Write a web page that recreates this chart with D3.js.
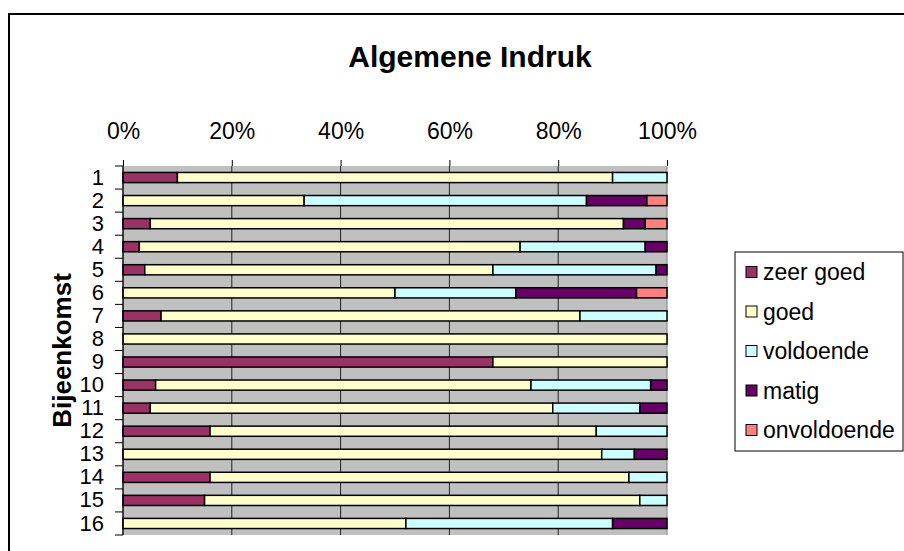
<!DOCTYPE html>
<html lang="nl">

<head>
    <meta charset="UTF-8">
    <title>Algemene Indruk</title>
    <style>
        body { margin: 0; background: white; }
        svg { display: block; font-family: Arial, "Liberation Sans", sans-serif; }
        .tick text { fill: black; }
    </style>
    <script src="https://d3js.org/d3.v7.min.js"></script>
</head>

<body>
    <div class="graph"></div>
</body>
<script>
    // categorieen (bijeenkomsten) en reeksen, in procenten
    const bijeenkomst = ['1', '2', '3', '4', '5', '6', '7', '8', '9', '10', '11', '12', '13', '14', '15', '16']
    const zeerGoed    = [10, 0, 5, 3, 4, 0, 7, 0, 68, 6, 5, 16, 0, 16, 15, 0]
    const goed        = [80, 33.3, 87, 70, 64, 50, 77, 100, 32, 69, 74, 71, 88, 77, 80, 52]
    const voldoende   = [10, 51.9, 0, 23, 30, 22.2, 16, 0, 0, 22, 16, 13, 6, 7, 5, 38]
    const matig       = [0, 11.1, 4, 4, 2, 22.2, 0, 0, 0, 3, 5, 0, 6, 0, 0, 10]
    const onvoldoende = [0, 3.7, 4, 0, 0, 5.6, 0, 0, 0, 0, 0, 0, 0, 0, 0, 0]
    const reeksen = ['zeer goed', 'goed', 'voldoende', 'matig', 'onvoldoende']
    const kleuren = ['#993366', '#FFFFCC', '#CCFFFF', '#660066', '#FF8080']
    const tickWaarden = [0, 0.2, 0.4, 0.6, 0.8, 1]

    const width = 904, height = 551
    const plot = { left: 123, right: 667, top: 166, bottom: 535 }

    const rows = bijeenkomst.map((b, i) => {
        const vals = [zeerGoed[i], goed[i], voldoende[i], matig[i], onvoldoende[i]]
        const tot = d3.sum(vals)
        const r = { b: b }
        reeksen.forEach((s, j) => r[s] = vals[j] / tot)
        return r
    })
    const stacked = d3.stack().keys(reeksen)(rows)

    const svg = d3.select('.graph').append('svg')
        .attr('width', width)
        .attr('height', height)

    // chart-rand
    svg.append('rect')
        .attr('x', 9).attr('y', 14)
        .attr('width', 1000).attr('height', 1000)
        .attr('fill', 'white')
        .attr('stroke', 'black')
        .attr('stroke-width', 2)

    const x = d3.scaleLinear().domain([0, 1]).range([plot.left, plot.right])
    const y = d3.scaleBand().domain(bijeenkomst).range([plot.top, plot.bottom])
    const color = d3.scaleOrdinal().domain(reeksen).range(kleuren)

    svg.append('rect')
        .attr('x', plot.left).attr('y', plot.top)
        .attr('width', plot.right - plot.left).attr('height', plot.bottom - plot.top)
        .attr('fill', '#C0C0C0')

    // rasterlijnen
    svg.append('g')
        .selectAll('line')
        .data(tickWaarden)
        .join('line')
        .attr('x1', d => x(d)).attr('x2', d => x(d))
        .attr('y1', plot.top).attr('y2', plot.bottom)
        .attr('stroke', d => d === 1 ? '#808080' : '#222')
        .attr('stroke-width', 1)

    const barH = y.bandwidth() * 0.44
    svg.append('g')
        .selectAll('g')
        .data(stacked)
        .join('g')
        .attr('fill', d => color(d.key))
        .selectAll('rect')
        .data(d => d.filter(p => p[1] - p[0] > 0))
        .join('rect')
        .attr('x', d => x(d[0]))
        .attr('width', d => x(d[1]) - x(d[0]))
        .attr('y', d => y(d.data.b) + (y.bandwidth() - barH) / 2)
        .attr('height', barH)
        .attr('stroke', 'black')
        .attr('stroke-width', 1.5)

    // x-as bovenaan
    const xAxis = svg.append('g')
        .attr('transform', `translate(0, ${plot.top})`)
        .call(d3.axisTop(x).tickValues(tickWaarden).tickFormat(d3.format('.0%')).tickSize(6).tickPadding(21))
    xAxis.select('.domain').remove()
    xAxis.selectAll('text').style('font-size', '23px')

    // y-as
    const yAxis = svg.append('g')
        .attr('transform', `translate(${plot.left}, 0)`)
        .call(d3.axisLeft(y).tickSize(0).tickPadding(19))
    yAxis.select('.domain').attr('d', `M0,${plot.top}V${plot.bottom}`)
    yAxis.selectAll('text').style('font-size', '22px')
    svg.append('g')
        .selectAll('line')
        .data(bijeenkomst.map(b => y(b)).concat([plot.bottom]))
        .join('line')
        .attr('x1', plot.left - 8).attr('x2', plot.left)
        .attr('y1', d => d).attr('y2', d => d)
        .attr('stroke', 'black')

    svg.append('text')
        .attr('x', 470)
        .attr('y', 67)
        .attr('text-anchor', 'middle')
        .style('font-size', '30px')
        .style('font-weight', 'bold')
        .text('Algemene Indruk')

    svg.append('text')
        .attr('transform', `translate(71, ${(plot.top + plot.bottom) / 2}) rotate(-90)`)
        .attr('text-anchor', 'middle')
        .style('font-size', '26px')
        .style('font-weight', 'bold')
        .text('Bijeenkomst')

    // legenda
    const legend = svg.append('g').attr('transform', 'translate(735, 252)')
    legend.append('rect')
        .attr('width', 168).attr('height', 199)
        .attr('fill', 'white').attr('stroke', 'black')
    const item = legend.selectAll('g')
        .data(reeksen)
        .join('g')
        .attr('transform', (d, i) => `translate(11, ${20 + i * 39.5})`)
    item.append('rect')
        .attr('x', 0).attr('y', -5.5)
        .attr('width', 11).attr('height', 11)
        .attr('fill', d => color(d)).attr('stroke', 'black')
    item.append('text')
        .attr('x', 17).attr('dy', '0.35em')
        .style('font-size', '23px')
        .text(d => d)
</script>

</html>
